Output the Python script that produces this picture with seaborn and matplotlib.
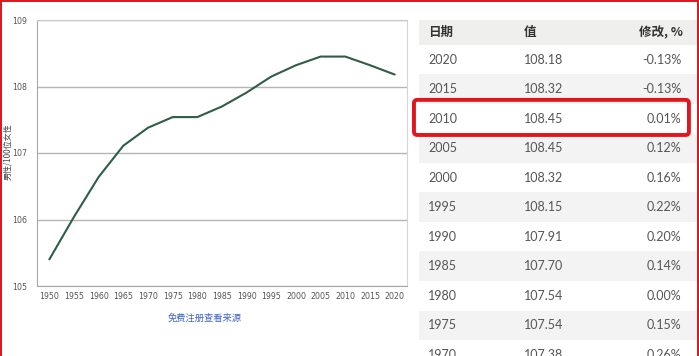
import matplotlib
matplotlib.use("Agg")
import matplotlib.pyplot as plt
from matplotlib.patches import FancyBboxPatch
from matplotlib.lines import Line2D
import seaborn as sns
import pandas as pd

# sex ratio (males per 100 females), 5-year steps
years = [1950, 1955, 1960, 1965, 1970, 1975, 1980, 1985, 1990, 1995, 2000, 2005, 2010, 2015, 2020]
values = [105.40, 106.04, 106.64, 107.11, 107.38, 107.54, 107.54, 107.70, 107.91, 108.15, 108.32, 108.45, 108.45, 108.32, 108.18]
y_ticks = [105, 106, 107, 108, 109]

# table on the right
table_header = ["日期", "值", "修改, %"]
table_years = ["2020", "2015", "2010", "2005", "2000", "1995", "1990", "1985", "1980", "1975", "1970"]
table_values = ["108.18", "108.32", "108.45", "108.45", "108.32", "108.15", "107.91", "107.70", "107.54", "107.54", "107.38"]
table_changes = ["-0.13%", "-0.13%", "0.01%", "0.12%", "0.16%", "0.22%", "0.20%", "0.14%", "0.00%", "0.15%", "0.26%"]
highlight_row = "2010"

y_label = "男性/100位女性"
source_note = "免费注册查看来源"

sns.set_style("white")
plt.rcParams["font.family"] = ["DejaVu Sans", "Noto Sans CJK SC"]

W, H = 699, 356
fig = plt.figure(figsize=(W / 100, H / 100), dpi=100)

# line chart
ax = fig.add_axes([37 / W, (H - 286) / H, 370 / W, 266 / H])
df = pd.DataFrame({"year": years, "value": values})
sns.lineplot(data=df, x="year", y="value", ax=ax, color="#2f5d46", linewidth=1.5)

ax.set_xlim(years[0] - 2.5, years[-1] + 2.5)
ax.set_ylim(y_ticks[0], y_ticks[-1])
ax.set_xticks(years)
ax.set_xticks([y - 2.5 for y in years] + [years[-1] + 2.5], minor=True)
ax.set_yticks(y_ticks)
ax.tick_params(axis="x", which="major", length=0, labelsize=5.7, colors="#555555", pad=4)
ax.tick_params(axis="x", which="minor", length=3, width=0.8, color="#999999", direction="out")
ax.tick_params(axis="y", length=0, labelsize=5.7, colors="#555555", pad=7)
ax.yaxis.grid(True, color="#b5b5b5", linewidth=1)
ax.set_axisbelow(True)
ax.set_xlabel("")
ax.set_ylabel(y_label, family=["Noto Sans CJK SC"], fontsize=5.8, color="#444444")
ax.yaxis.set_label_coords(-25 / 370, 0.504)
ax.spines["left"].set_color("#a8a8a8")
ax.spines["bottom"].set_color("#a8a8a8")
ax.spines["right"].set_color("#d5d5d5")
ax.spines["top"].set_color("#c8c8c8")

fig.text(205 / W, 1 - 318 / H, source_note, family=["Noto Sans CJK SC"], fontsize=6.7,
         color="#3f63c9", ha="center", va="center")

# table
row_h = 29.5
head_h = 25 / row_h
n_vis = (H - 45) / row_h
tx = fig.add_axes([419 / W, 0, 280 / W, (H - 20) / H])
tx.set_xlim(0, 1)
tx.set_ylim(n_vis, -head_h)
tx.axis("off")

tx.barh([-head_h / 2], [1], height=head_h, left=0, color="#efefed", linewidth=0)
grey_rows = [k + 0.5 for k in range(len(table_years)) if k % 2 == 1]
tx.barh(grey_rows, [1] * len(grey_rows), height=1, left=0, color="#f3f3f3", linewidth=0)

hx = [0.032, 0.375, 0.943]
has = ["left", "left", "right"]
for x, txt, ha in zip(hx, table_header, has):
    tx.text(x, -head_h / 2, txt, family=["Noto Sans CJK SC"], fontweight="bold",
            fontsize=9, color="#333333", ha=ha, va="center")

for k, (yr, v, c) in enumerate(zip(table_years, table_values, table_changes)):
    yc = k + 0.5
    tx.text(0.032, yc, yr, family=["Lato"], fontsize=9, color="#555555", ha="left", va="center")
    tx.text(0.375, yc, v, family=["Lato"], fontsize=9, color="#555555", ha="left", va="center")
    tx.text(0.936, yc, c, family=["Lato"], fontsize=9, color="#555555", ha="right", va="center")

# highlight box around the 2010 row (rounded, drawn in data units of the table axes)
hi = table_years.index(highlight_row)
tx.add_patch(FancyBboxPatch((-0.018, hi - 0.14), 0.982, 1.19,
                            boxstyle="round,pad=0,rounding_size=0.012",
                            mutation_aspect=280 / row_h,
                            fill=False, edgecolor="#e3141b", linewidth=2.8, clip_on=False))

# red frame of the screenshot
frame = "#d8161e"
fig.add_artist(Line2D([0, 1], [1 - 0.6 / H, 1 - 0.6 / H], color=frame, linewidth=1.4))
fig.add_artist(Line2D([0.8 / W, 0.8 / W], [0, 1], color=frame, linewidth=1.4))
fig.add_artist(Line2D([697.6 / W, 697.6 / W], [0, 1], color=frame, linewidth=1.4))

fig.savefig("out.png", dpi=100)
